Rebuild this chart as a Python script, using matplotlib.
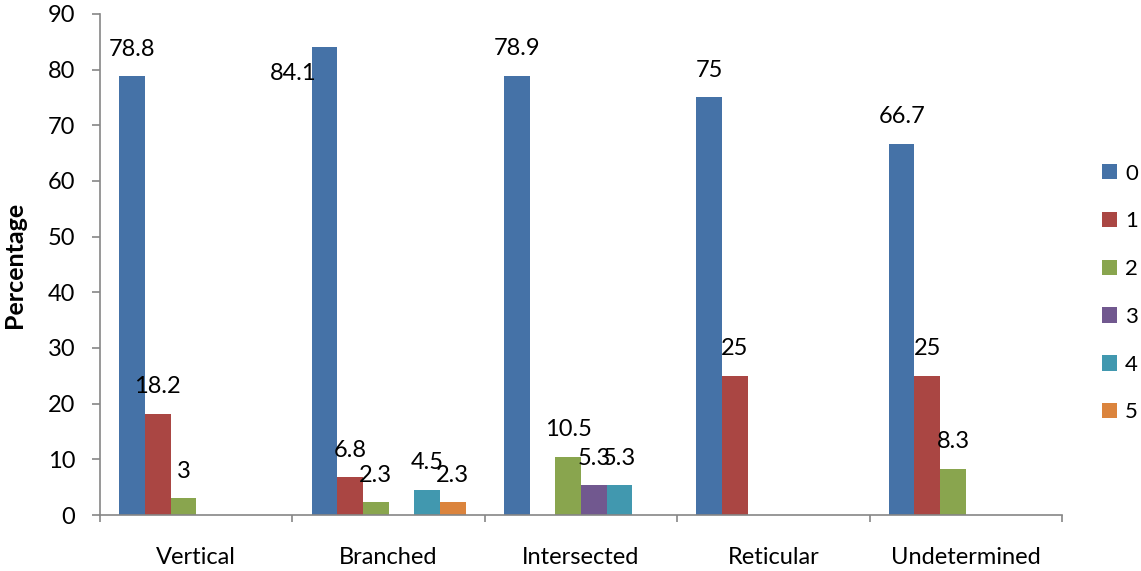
import numpy as np
import matplotlib
matplotlib.use('Agg')
import matplotlib.pyplot as plt

# branching pattern categories and percentage per score (0-5)
categories = ['Vertical', 'Branched', 'Intersected', 'Reticular', 'Undetermined']
series_names = ['0', '1', '2', '3', '4', '5']
score_0 = [78.8, 84.1, 78.9, 75, 66.7]
score_1 = [18.2, 6.8, 0, 25, 25]
score_2 = [3, 2.3, 10.5, 0, 8.3]
score_3 = [0, 0, 5.3, 0, 0]
score_4 = [0, 4.5, 5.3, 0, 0]
score_5 = [0, 2.3, 0, 0, 0]
y_ticks = [0, 10, 20, 30, 40, 50, 60, 70, 80, 90]

colors = ['#4572A7', '#AA4643', '#89A54E', '#71588F', '#4198AF', '#DB843D']
# default label offset in pixels, with one label dragged off its bar
label_shift = {(0, 1): (-31, -54)}

plt.rcParams['font.family'] = ['Lato', 'DejaVu Sans']
FS = 17

W, H = 1141, 571
fig = plt.figure(figsize=(W / 100, H / 100), dpi=100)
ax = fig.add_axes([100 / W, (H - 515) / H, (1062 - 100) / W, (515 - 14) / H])

values = [score_0, score_1, score_2, score_3, score_4, score_5]
x = np.arange(len(categories))
width = 1 / 7.5
for i, (vals, name, c) in enumerate(zip(values, series_names, colors)):
    pos = x + (i - 2.5) * width
    ax.bar(pos, vals, width, color=c, label=name, edgecolor='none')
    for j, (p, v) in enumerate(zip(pos, vals)):
        if v == 0:
            continue
        dx, dy = label_shift.get((i, j), (0, 0))
        ax.annotate(f'{v:g}', (p, v), xytext=(dx, 27 + dy),
                    textcoords='offset pixels', ha='center', va='center',
                    fontsize=FS, color='black')

ax.set_xlim(-0.5, len(categories) - 0.5)
ax.set_ylim(0, 90)
ax.set_yticks(y_ticks)
ax.tick_params(axis='y', labelsize=FS, length=8 * 0.72, width=1.2,
               color='#868686', pad=12)
# category labels sit between boundary ticks
ax.set_xticks(np.arange(len(categories) + 1) - 0.5)
ax.set_xticklabels([])
ax.set_xticks(x, minor=True)
ax.set_xticklabels(categories, minor=True)
ax.tick_params(axis='x', which='major', length=7 * 0.72, width=1.2,
               color='#868686')
ax.tick_params(axis='x', which='minor', length=0, labelsize=FS, pad=23)

for s in ['top', 'right']:
    ax.spines[s].set_visible(False)
for s in ['left', 'bottom']:
    ax.spines[s].set_color('#868686')
    ax.spines[s].set_linewidth(1.2)

ax.set_ylabel('Percentage', fontsize=18, fontweight='bold', va='center')
ax.yaxis.set_label_coords((15 - 100) / (1062 - 100), 0.5)

fig.legend(loc='center left', bbox_to_anchor=(1102 / W, 1 - 293 / H),
           frameon=False, fontsize=16, handlelength=0.68, handleheight=0.68,
           handletextpad=0.35, labelspacing=1.25, borderpad=0,
           borderaxespad=0)

fig.savefig('out.png', dpi=100)
